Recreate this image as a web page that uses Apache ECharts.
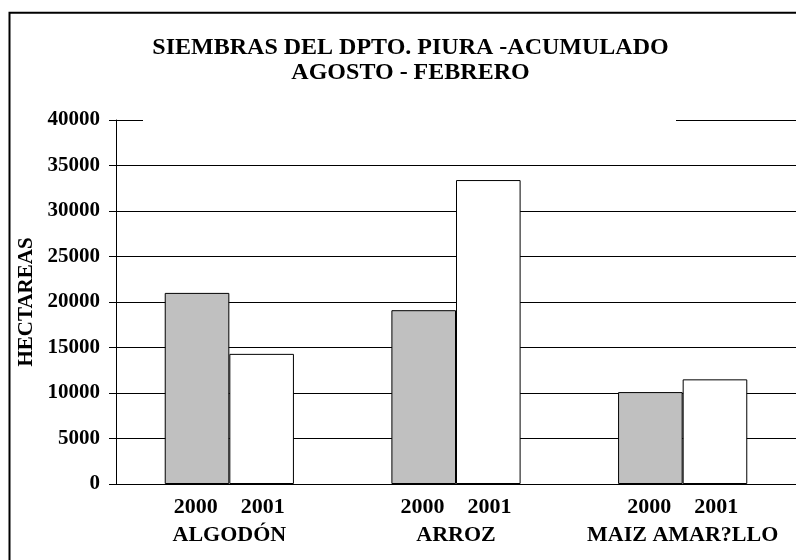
<!DOCTYPE html>
<html>
<head>
<meta charset="utf-8">
<script src="https://cdn.jsdelivr.net/npm/echarts@6/dist/echarts.min.js"></script>
<style>html,body{margin:0;padding:0;background:#fff}#c{width:796px;height:560px}</style>
</head>
<body>
<div id="c"></div>
<script>
const categories = ['ALGODÓN', 'ARROZ', 'MAIZ AMAR?LLO'];
const years = ['2000', '2001'];
const values2000 = [21000, 19100, 10100];
const values2001 = [14300, 33400, 11500];
const yTicks = [0, 5000, 10000, 15000, 20000, 25000, 30000, 35000, 40000];

const FONT = "'Liberation Serif', 'Times New Roman', serif";
const chart = echarts.init(document.getElementById('c'), null, {renderer: 'canvas'});
chart.setOption({
  animation: false,
  backgroundColor: '#fff',
  title: {
    text: 'SIEMBRAS DEL DPTO. PIURA -ACUMULADO\nAGOSTO - FEBRERO',
    left: 405.5,
    textAlign: 'center',
    top: 30,
    z: 200,
    textStyle: {fontFamily: FONT, fontWeight: 'bold', fontSize: 24, lineHeight: 25, color: '#000'}
  },
  graphic: [
    {type: 'rect', z: 100, shape: {x: 143, y: 25, width: 533, height: 100}, style: {fill: '#fff'}},
    {type: 'rect', z: 300, shape: {x: 9.5, y: 12.8, width: 900, height: 700}, style: {fill: 'none', stroke: '#000', lineWidth: 2}}
  ],
  grid: {left: 116, right: -5, top: 120, bottom: 76},
  xAxis: {
    type: 'category',
    data: categories,
    axisLine: {lineStyle: {color: '#000', width: 1}},
    axisTick: {show: false},
    axisLabel: {
      margin: 10,
      interval: 0,
      formatter: v => '{y|' + years[0] + '}{y|' + years[1] + '}\n{n|' + v + '}',
      rich: {
        y: {width: 67, align: 'center', fontFamily: FONT, fontWeight: 'bold', fontSize: 22, lineHeight: 27, color: '#000'},
        n: {fontFamily: FONT, fontWeight: 'bold', fontSize: 22, lineHeight: 28, color: '#000'}
      }
    }
  },
  yAxis: {
    type: 'value',
    min: 0, max: 40000, interval: 5000,
    name: 'HECTAREAS',
    nameLocation: 'middle',
    nameRotate: 90,
    nameGap: 78,
    nameTextStyle: {fontFamily: FONT, fontWeight: 'bold', fontSize: 21, color: '#000'},
    axisLine: {show: true, lineStyle: {color: '#000', width: 1}},
    axisTick: {show: true, length: 7, lineStyle: {color: '#000'}},
    axisLabel: {
      margin: 16,
      fontFamily: FONT, fontWeight: 'bold', fontSize: 21, color: '#000',
      formatter: v => yTicks.includes(v) ? String(v) : ''
    },
    splitLine: {show: true, lineStyle: {color: '#000', width: 1}}
  },
  series: [
    {name: years[0], type: 'bar', data: values2000, barGap: '0%', barCategoryGap: '43%',
     itemStyle: {color: '#c0c0c0', borderColor: '#000', borderWidth: 1}},
    {name: years[1], type: 'bar', data: values2001,
     itemStyle: {color: '#fff', borderColor: '#000', borderWidth: 1}}
  ]
});
</script>
</body>
</html>
